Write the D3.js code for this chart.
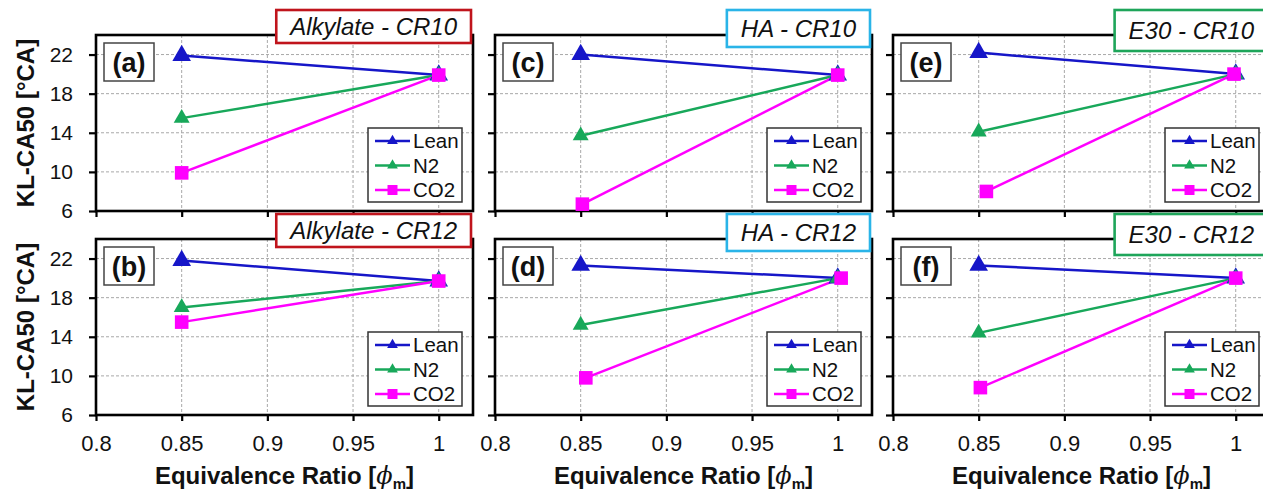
<!DOCTYPE html>
<html>
<head>
<meta charset="utf-8">
<script src="https://cdn.jsdelivr.net/npm/d3@7"></script>
<style>
  body { margin: 0; background: #fff; }
  svg { display: block; font-family: "Liberation Sans", Arial, sans-serif; }
</style>
</head>
<body>
<svg id="chart" width="1263" height="491"></svg>
<script>
// ---- Data -------------------------------------------------------------
const panelLetters = ["(a)", "(b)", "(c)", "(d)", "(e)", "(f)"];
const panelTitles = ["Alkylate - CR10", "Alkylate - CR12", "HA - CR10", "HA - CR12", "E30 - CR10", "E30 - CR12"];
const fuelOfPanel = ["Alkylate", "Alkylate", "HA", "HA", "E30", "E30"];
const seriesNames = ["Lean", "N2", "CO2"];

// equivalence ratio of each point, per panel
const phiLean = [[0.85, 1.0], [0.85, 1.0], [0.85, 1.0], [0.85, 1.0], [0.85, 1.0], [0.85, 1.0]];
const phiN2   = [[0.85, 1.0], [0.85, 1.0], [0.85, 1.0], [0.85, 1.0], [0.85, 1.0], [0.85, 1.0]];
const phiCO2  = [[0.85, 1.0], [0.85, 1.0], [0.851, 1.0], [0.853, 1.002], [0.8545, 0.999], [0.851, 1.0]];

// KL-CA50 [°CA], per panel
const klLean = [[21.9, 19.9], [21.8, 19.7], [22.0, 19.9], [21.3, 20.0], [22.2, 20.0], [21.3, 20.0]];
const klN2   = [[15.5, 19.9], [17.0, 19.7], [13.7, 19.9], [15.2, 20.0], [14.1, 20.0], [14.4, 20.0]];
const klCO2  = [[9.9, 19.9], [15.5, 19.7], [6.7, 19.9], [9.8, 20.0], [8.0, 20.0], [8.8, 20.0]];

const xTicks = [0.8, 0.85, 0.9, 0.95, 1.0];
const xTickLabels = ["0.8", "0.85", "0.9", "0.95", "1"];
const yTicks = [6, 10, 14, 18, 22];
const xDomain = [0.8, 1.02];
const yDomain = [6, 24];

// ---- Styling ----------------------------------------------------------
const seriesColor = { Lean: "#1616c8", N2: "#18a85a", CO2: "#ff00ff" };
const seriesSymbol = { Lean: d3.symbolTriangle, N2: d3.symbolTriangle, CO2: d3.symbolSquare };
const markerSize = { Lean: 150, N2: 110, CO2: 185 };
const legendMarkerSize = { Lean: 50, N2: 50, CO2: 100 };
const fuelColor = { Alkylate: "#c0141c", HA: "#2ab4e8", E30: "#1ea55a" };
const titleBoxHeight = { Alkylate: 33, HA: 37, E30: 41 };

const colLeft = [96, 495, 893];
const rowTop = [35, 239];
const plotW = 377, plotH = 176;

const svg = d3.select("#chart");
svg.append("rect").attr("width", 1263).attr("height", 491).attr("fill", "#fff");

panelLetters.forEach((letter, i) => {
  const col = Math.floor(i / 2), row = i % 2;
  const left = colLeft[col], top = rowTop[row];
  const g = svg.append("g").attr("transform", `translate(${left},${top})`);

  const x = d3.scaleLinear().domain(xDomain).range([0, plotW]);
  const y = d3.scaleLinear().domain(yDomain).range([plotH, 0]);

  // dashed grid
  g.append("g").selectAll("line").data(xTicks.slice(1)).join("line")
    .attr("x1", d => x(d)).attr("x2", d => x(d))
    .attr("y1", 0).attr("y2", plotH)
    .attr("stroke", "#a8a8a8").attr("stroke-width", 1).attr("stroke-dasharray", "3,2");
  g.append("g").selectAll("line").data(yTicks.slice(1)).join("line")
    .attr("x1", 0).attr("x2", plotW)
    .attr("y1", d => y(d)).attr("y2", d => y(d))
    .attr("stroke", "#a8a8a8").attr("stroke-width", 1).attr("stroke-dasharray", "3,2");

  // axes
  const yAxis = d3.axisLeft(y).tickValues(yTicks).tickSize(7).tickPadding(16)
    .tickFormat(col === 0 ? d3.format("d") : () => "");
  const ya = g.append("g").call(yAxis);
  ya.select(".domain").remove();
  ya.selectAll(".tick line").attr("stroke", "#000").attr("stroke-width", 2.2);
  ya.selectAll("text").attr("font-size", 21).attr("fill", "#111")
    .attr("font-family", "'Liberation Sans', Arial, sans-serif");

  const xAxis = d3.axisBottom(x).tickValues(xTicks).tickSize(6).tickPadding(14)
    .tickFormat((d, k) => row === 1 ? xTickLabels[k] : "");
  const xa = g.append("g").attr("transform", `translate(0,${plotH})`).call(xAxis);
  xa.select(".domain").remove();
  xa.selectAll(".tick line").attr("stroke", "#000").attr("stroke-width", 2.2);
  xa.selectAll("text").attr("font-size", 22).attr("fill", "#111")
    .attr("font-family", "'Liberation Sans', Arial, sans-serif");

  // frame
  g.append("rect").attr("x", 0).attr("y", 0).attr("width", plotW).attr("height", plotH)
    .attr("fill", "none").attr("stroke", "#000").attr("stroke-width", 2.6);

  // series
  const phis = [phiLean[i], phiN2[i], phiCO2[i]];
  const kls = [klLean[i], klN2[i], klCO2[i]];
  const line = d3.line().x(d => x(d[0])).y(d => y(d[1]));
  seriesNames.forEach((name, s) => {
    const pts = phis[s].map((p, k) => [p, kls[s][k]]);
    g.append("path").datum(pts).attr("d", line)
      .attr("fill", "none").attr("stroke", seriesColor[name]).attr("stroke-width", 2.5);
  });
  seriesNames.forEach((name, s) => {
    const pts = phis[s].map((p, k) => [p, kls[s][k]]);
    g.append("g").selectAll("path").data(pts).join("path")
      .attr("transform", d => `translate(${x(d[0])},${y(d[1])})`)
      .attr("d", d3.symbol().type(seriesSymbol[name]).size(markerSize[name]))
      .attr("fill", seriesColor[name]);
  });

  // panel letter box
  const lb = g.append("g").attr("transform", "translate(8,8)");
  lb.append("rect").attr("width", 50).attr("height", 38)
    .attr("fill", "#fff").attr("stroke", "#444").attr("stroke-width", 1.5);
  lb.append("text").attr("x", 25).attr("y", 19).attr("dy", "0.36em")
    .attr("text-anchor", "middle").attr("font-size", 27).attr("font-weight", "bold")
    .attr("fill", "#111").text(letter);

  // legend
  const lgW = 94, lgH = 74;
  const lg = g.append("g").attr("transform", `translate(${plotW - 11 - lgW},${plotH - 9 - lgH})`);
  lg.append("rect").attr("width", lgW).attr("height", lgH)
    .attr("fill", "#fff").attr("stroke", "#333").attr("stroke-width", 1.5);
  seriesNames.forEach((name, s) => {
    const cy = 13 + s * 24.5;
    lg.append("line").attr("x1", 7).attr("x2", 42).attr("y1", cy).attr("y2", cy)
      .attr("stroke", seriesColor[name]).attr("stroke-width", 2.5);
    lg.append("path").attr("transform", `translate(24.5,${cy})`)
      .attr("d", d3.symbol().type(seriesSymbol[name]).size(legendMarkerSize[name]))
      .attr("fill", seriesColor[name]);
    lg.append("text").attr("x", 45).attr("y", cy).attr("dy", "0.36em")
      .attr("font-size", 20.5).attr("fill", "#111").text(name);
  });

  // fuel / compression-ratio title box
  const fuel = fuelOfPanel[i];
  const tb = g.append("g");
  const tt = tb.append("text").attr("font-size", 24).attr("font-style", "italic")
    .attr("fill", "#111").text(panelTitles[i]);
  const tw = tt.node().getComputedTextLength();
  const bw = tw + 28, bh = titleBoxHeight[fuel];
  const bx = plotW - 2 - bw, by = -25;
  tb.insert("rect", "text").attr("x", bx).attr("y", by).attr("width", bw).attr("height", bh)
    .attr("fill", "#fff").attr("stroke", fuelColor[fuel]).attr("stroke-width", 2.6);
  tt.attr("x", bx + bw / 2).attr("y", by + bh / 2).attr("dy", "0.36em").attr("text-anchor", "middle");

  // axis titles
  if (col === 0) {
    svg.append("text")
      .attr("transform", `translate(25,${top + plotH / 2}) rotate(-90)`)
      .attr("text-anchor", "middle").attr("dy", "0.36em")
      .attr("font-size", 24).attr("font-weight", "bold").attr("fill", "#111")
      .text("KL-CA50 [°CA]");
  }
  if (row === 1) {
    const t = svg.append("text")
      .attr("x", left + plotW / 2).attr("y", 484)
      .attr("text-anchor", "middle").attr("font-size", 24).attr("font-weight", "bold").attr("fill", "#111");
    t.append("tspan").text("Equivalence Ratio [");
    t.append("tspan").attr("font-style", "italic").attr("font-weight", "normal")
      .attr("font-family", "'DejaVu Serif', serif").text("ϕ");
    t.append("tspan").attr("font-size", 15).attr("dy", 5).text("m");
    t.append("tspan").attr("dy", -5).text("]");
  }
});
</script>
</body>
</html>
